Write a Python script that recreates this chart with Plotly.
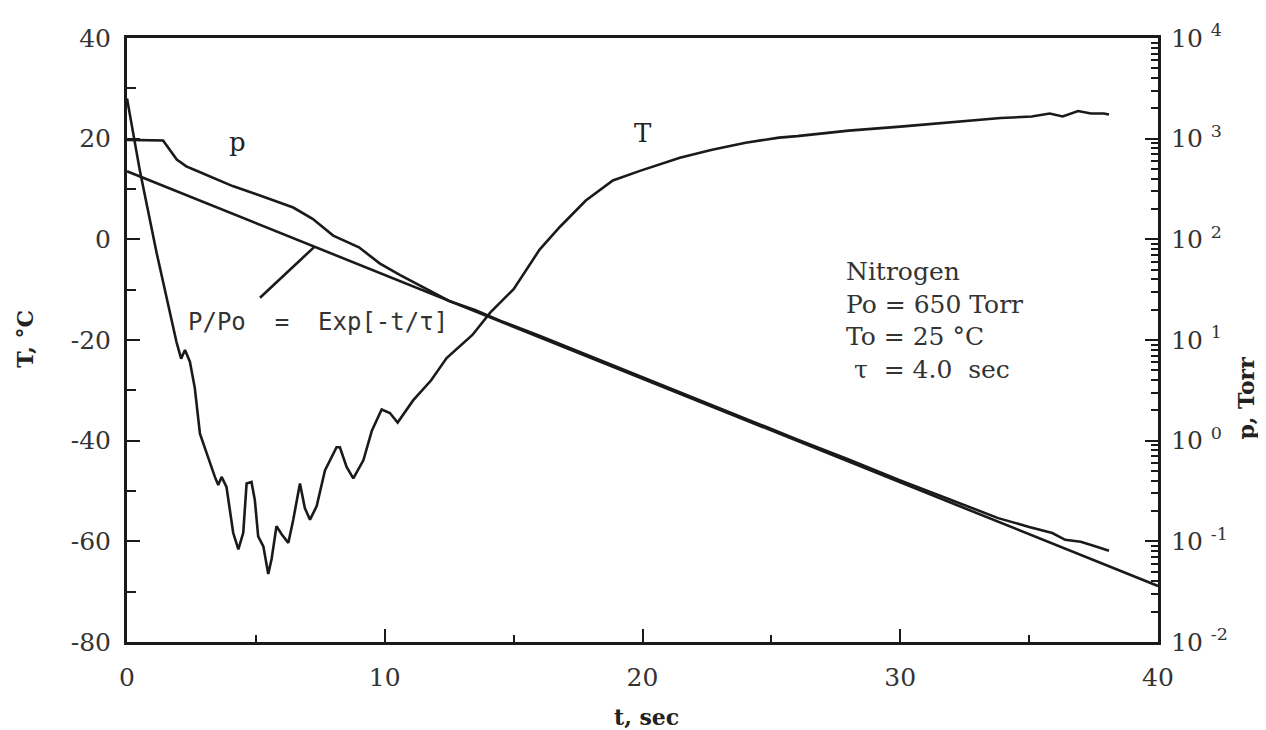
import plotly.graph_objects as go

# Temperature trace (left axis, deg C)
t_T = [0, 0.5, 1.15, 1.78, 1.92, 2.1, 2.25, 2.44, 2.63, 2.83, 3.09, 3.41, 3.54, 3.67, 3.86,
       4.12, 4.32, 4.51, 4.64, 4.83, 4.96, 5.09, 5.29, 5.48, 5.61, 5.8, 6.0, 6.26, 6.45, 6.71,
       6.9, 7.1, 7.36, 7.68, 8.13, 8.26, 8.52, 8.78, 9.17, 9.5, 9.88, 10.2, 10.5, 11.1, 11.8,
       12.4, 13.4, 14.1, 15.0, 16.0, 16.8, 17.8, 18.85, 19.9, 21.45, 22.7, 24.0, 25.3, 26.0,
       28.0, 30.0, 32.0, 33.9, 35.1, 35.8, 36.3, 36.9, 37.4, 37.9, 38.1]
T_vals = [28, 13.6, -2.7, -17.7, -20.4, -23.7, -22, -24.3, -29.5, -38.6, -42.6, -47.2, -48.8,
          -47.2, -49.2, -58.3, -61.6, -58.3, -48.5, -48.2, -51.8, -59.0, -61, -66.5, -63.5, -57,
          -58.6, -60.3, -55.7, -48.5, -53.4, -55.7, -53, -45.9, -41.3, -41.3, -45.2, -47.5,
          -43.9, -38, -33.8, -34.5, -36.4, -32, -28, -23.6, -19, -14.5, -9.9, -2.1, 2.5, 7.7,
          11.7, 13.6, 16.2, 17.8, 19.2, 20.2, 20.5, 21.6, 22.4, 23.2, 24.1, 24.4, 25.0, 24.4,
          25.5, 25.0, 25.0, 24.8]

# Measured pressure trace (right axis, Torr)
t_p = [0, 1.4, 1.93, 2.3, 2.7, 3.4, 4.1, 5.4, 6.45, 7.2, 8.0, 9.0, 9.8, 10.6, 11.5, 12.5,
       13.5, 14.5, 16, 18, 20, 22, 24, 26, 28, 30, 32, 33.8, 35.0, 35.9, 36.4, 37.0, 37.5, 38.1]
p_vals = [973, 960, 620, 531, 480, 400, 338, 259, 207, 160, 109, 83.4, 57.7, 44.0, 33.5, 24.4,
          19.9, 15.5, 11.0, 6.85, 4.21, 2.64, 1.64, 1.03, 0.649, 0.403, 0.256, 0.170, 0.139,
          0.121, 0.1035, 0.0989, 0.0904, 0.0807]

t_fit = [0, 40]
p_fit = [474, 0.036]

x_ticks = [0, 10, 20, 30, 40]
T_ticks = [-80, -60, -40, -20, 0, 20, 40]
T_ticktext = ["-80", "-60", "-40", "-20", "0", "20", "40"]
p_tickvals = [1e-2, 1e-1, 1, 10, 100, 1000, 1e4]
p_ticktext = ["10 <sup>-2</sup>", "10 <sup>-1</sup>", "10 <sup>0</sup>", "10 <sup>1</sup>",
              "10 <sup>2</sup>", "10 <sup>3</sup>", "10 <sup>4</sup>"]

SERIF = "DejaVu Serif"
INK = "#1a1a1a"

fig = go.Figure()
fig.add_trace(go.Scatter(x=t_T, y=T_vals, mode="lines", line=dict(color=INK, width=2.6),
                         yaxis="y", showlegend=False))
fig.add_trace(go.Scatter(x=t_p, y=p_vals, mode="lines", line=dict(color=INK, width=2.6),
                         yaxis="y2", showlegend=False))
fig.add_trace(go.Scatter(x=t_fit, y=p_fit, mode="lines", line=dict(color=INK, width=2.6),
                         yaxis="y2", showlegend=False))

# the page body has an 8 px margin, so margins are set to put the plot frame at
# x = 127..1158, y = 31..642 in the screenshot
fig.update_layout(
    width=1266, height=730,
    margin=dict(l=119, r=116, t=23, b=96),
    paper_bgcolor="white", plot_bgcolor="white",
    font=dict(family=SERIF, size=25, color="#333"),
    xaxis=dict(range=[0, 40], tickvals=x_ticks, ticks="inside", ticklen=13, tickwidth=2,
               tickcolor=INK, showline=True, linewidth=3, linecolor=INK, mirror=True,
               showgrid=False, zeroline=False, ticklabelstandoff=11,
               minor=dict(ticks="inside", ticklen=7, tickwidth=2, tickcolor=INK, dtick=5,
                          showgrid=False)),
    yaxis=dict(range=[-80, 40], tickvals=T_ticks, ticktext=T_ticktext, ticks="inside",
               ticklen=13, tickwidth=2, tickcolor=INK, showline=True, linewidth=3,
               linecolor=INK, showgrid=False, zeroline=False, ticklabelstandoff=8,
               minor=dict(ticks="inside", ticklen=9, tickwidth=2, tickcolor=INK, dtick=10,
                          showgrid=False)),
    yaxis2=dict(type="log", range=[-2, 4], overlaying="y", side="right",
                tickvals=p_tickvals, ticktext=p_ticktext, ticks="inside", ticklen=13,
                tickwidth=2, tickcolor=INK, showline=True, linewidth=3, linecolor=INK,
                showgrid=False, zeroline=False, ticklabelstandoff=5,
                minor=dict(ticks="inside", ticklen=7, tickwidth=1.5, tickcolor=INK,
                           dtick="D1", showgrid=False)),
)

# pointer line from the formula label to the fit line
fig.add_shape(type="line", xref="x", yref="y", x0=5.16, y0=-11.6, x1=7.29, y1=-1.4,
              line=dict(color=INK, width=2.6))

ann = [
    dict(x=4.27, y=19.4, text="p", font=dict(family=SERIF, size=26, color="#222")),
    dict(x=20.0, y=21.1, text="T", font=dict(family=SERIF, size=26, color="#222")),
    dict(x=2.3, y=-16.4, text="P/Po  =  Exp[-t/τ]", xanchor="left",
         font=dict(family="DejaVu Sans Mono", size=24, color="#333")),
    dict(x=27.8, y=-16.2, xanchor="left", align="left",
         text="Nitrogen<br>Po = 650 Torr<br>To = 25 °C<br> τ  = 4.0  sec",
         font=dict(family=SERIF, size=25, color="#333")),
    dict(x=-0.099, y=0.502, xref="paper", yref="paper", text="<b>T, °C</b>", textangle=-90,
         font=dict(family=SERIF, size=22, color="#222")),
    dict(x=1.085, y=0.404, xref="paper", yref="paper", text="<b>p, Torr</b>", textangle=-90,
         font=dict(family=SERIF, size=22, color="#222")),
    dict(x=0.504, y=-0.124, xref="paper", yref="paper", text="<b>t, sec</b>",
         font=dict(family=SERIF, size=22, color="#222")),
]
for a in ann:
    a.setdefault("xref", "x")
    a.setdefault("yref", "y")
    a.setdefault("xanchor", "center")
    a.setdefault("yanchor", "middle")
    a.setdefault("showarrow", False)
    fig.add_annotation(**a)

fig.write_html("out.html")
